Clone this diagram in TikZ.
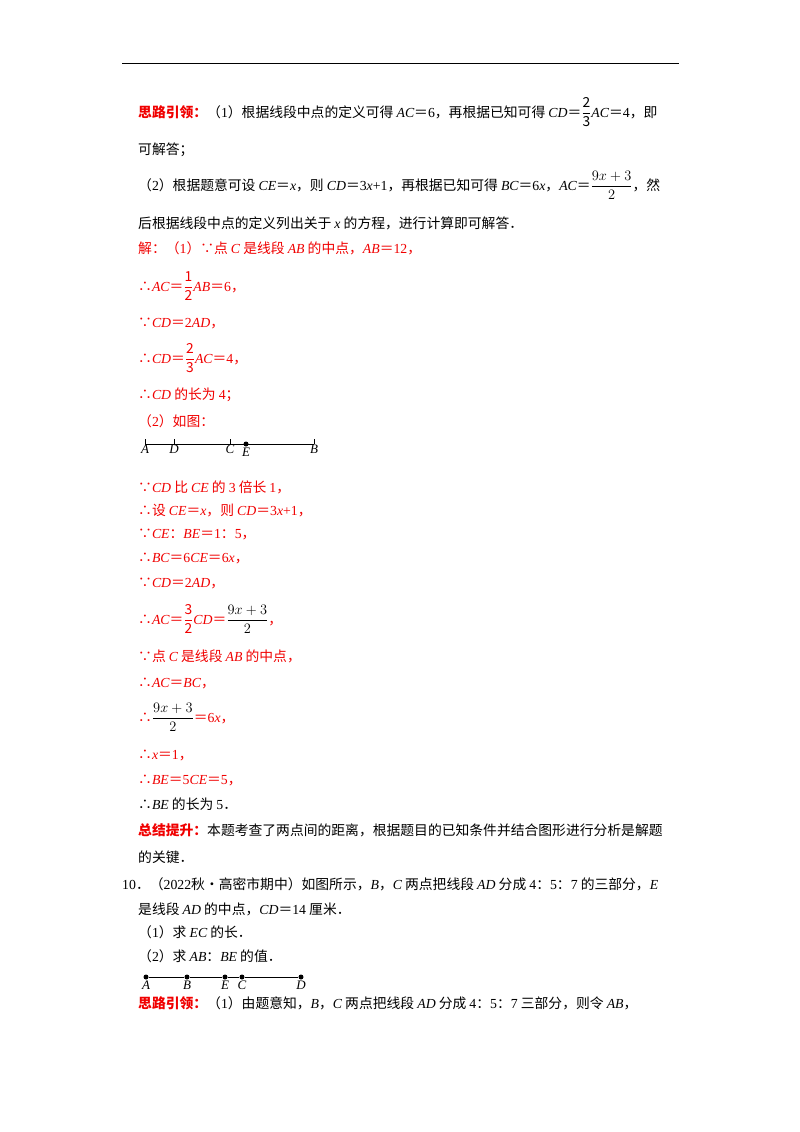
\documentclass[tikz,border=0pt]{standalone}
\usepackage{fontspec}
\setmainfont{Noto Sans CJK SC}
\newfontfamily\tm{Liberation Serif}
\newcommand\V[1]{{\tm\itshape #1}}
\newcommand\N[1]{{\tm #1}}
\newcommand\F[2]{$\displaystyle\frac{\mathrm{#1}}{\mathrm{#2}}$}
\definecolor{rd}{RGB}{240,0,0}
\begin{document}
\begin{tikzpicture}[x=1pt,y=-1pt,
  t/.style={anchor=base west,inner sep=0,font=\fontsize{13.8}{16}\selectfont},
  r/.style={t,text=rd},
  pt/.style={circle,fill,inner sep=0,minimum size=5pt},
  lb/.style={anchor=north,inner sep=1pt,font=\fontsize{13}{15}\selectfont\tm\itshape}]
\useasboundingbox (0,0) rectangle (800,1132);
\draw[line width=0.8pt] (122,63) -- (679,63);
\node[t] (l1) at (138,117) {{\color{rd}\bfseries 思路引领：}（\N{1}）根据线段中点的定义可得 \V{AC}＝\N{6}，再根据已知可得 \V{CD}＝\F{2}{3}\V{AC}＝\N{4}，即};
\node[t] (l2) at (138,154) {可解答；};
\node[t] (l3) at (138,190) {（\N{2}）根据题意可设 \V{CE}＝\V{x}，则 \V{CD}＝\N{3}\V{x}\N{+1}，再根据已知可得 \V{BC}＝\N{6}\V{x}，\V{AC}＝$\displaystyle\frac{9x+3}{2}$，然};
\node[t] (l4) at (138,228) {后根据线段中点的定义列出关于 \V{x} 的方程，进行计算即可解答．};
\node[r] (l5) at (138,253) {解：（\N{1}）∵点 \V{C} 是线段 \V{AB} 的中点，\V{AB}＝\N{12}，};
\node[r] (l6) at (138,291) {∴\V{AC}＝\F{1}{2}\V{AB}＝\N{6}，};
\node[r] (l7) at (138,327) {∵\V{CD}＝\N{2}\V{AD}，};
\node[r] (l8) at (138,363) {∴\V{CD}＝\F{2}{3}\V{AC}＝\N{4}，};
\node[r] (l9) at (138,399) {∴\V{CD} 的长为 \N{4}；};
\node[r] (l10) at (138,426) {（\N{2}）如图：};
% figure 1
\coordinate (A1) at (145,444); \coordinate (D1) at (174,444); \coordinate (C1) at (230,444);
\coordinate (B1) at (314,444);
\node[pt] (E1) at (246,444) {};
\draw (A1) -- (B1);
\foreach \p in {A1,D1,C1,B1} \draw (\p) ++(0,-5) -- ++(0,5);
\node[lb] at (A1) {A}; \node[lb] at (D1) {D}; \node[lb] at (C1) {C};
\node[lb] at (E1.south) {E}; \node[lb] at (B1) {B};
\node[r] at (138,492) {∵\V{CD} 比 \V{CE} 的 \N{3} 倍长 \N{1}，};
\node[r] at (138,515) {∴设 \V{CE}＝\V{x}，则 \V{CD}＝\N{3}\V{x}\N{+1}，};
\node[r] at (138,538) {∵\V{CE}：\V{BE}＝\N{1}：\N{5}，};
\node[r] at (138,562) {∴\V{BC}＝\N{6}\V{CE}＝\N{6}\V{x}，};
\node[r] at (138,587) {∵\V{CD}＝\N{2}\V{AD}，};
\node[r] at (138,624) {∴\V{AC}＝\F{3}{2}\V{CD}＝{\color{black}$\displaystyle\frac{9x+3}{2}$}，};
\node[r] at (138,661) {∵点 \V{C} 是线段 \V{AB} 的中点，};
\node[r] at (138,687) {∴\V{AC}＝\V{BC}，};
\node[r] at (138,722) {∴{\color{black}$\displaystyle\frac{9x+3}{2}$}＝\N{6}\V{x}，};
\node[r] at (138,759) {∴\V{x}＝\N{1}，};
\node[r] at (138,784) {∴\V{BE}＝\N{5}\V{CE}＝\N{5}，};
\node[t] at (138,809) {∴\V{BE} 的长为 \N{5}．};
\node[t] at (138,835) {{\color{rd}\bfseries 总结提升：}本题考查了两点间的距离，根据题目的已知条件并结合图形进行分析是解题};
\node[t] at (138,862) {的关键．};
\node[t] at (122,889) {\N{10}．（\N{2022}秋•高密市期中）如图所示，\V{B}，\V{C} 两点把线段 \V{AD} 分成 \N{4}：\N{5}：\N{7} 的三部分，\V{E}};
\node[t] at (138,914) {是线段 \V{AD} 的中点，\V{CD}＝\N{14} 厘米．};
\node[t] at (138,937) {（\N{1}）求 \V{EC} 的长．};
\node[t] at (138,961) {（\N{2}）求 \V{AB}：\V{BE} 的值．};
% figure 2
\node[pt] (A2) at (146,977) {}; \node[pt] (B2) at (187,977) {}; \node[pt] (E2) at (225,977) {};
\node[pt] (C2) at (242,977) {}; \node[pt] (D2) at (301,977) {};
\draw (A2) -- (B2) -- (E2) -- (C2) -- (D2);
\node[lb] at (A2.south) {A}; \node[lb] at (B2.south) {B}; \node[lb] at (E2.south) {E};
\node[lb] at (C2.south) {C}; \node[lb] at (D2.south) {D};
\node[t] at (138,1008) {{\color{rd}\bfseries 思路引领：}（\N{1}）由题意知，\V{B}，\V{C} 两点把线段 \V{AD} 分成 \N{4}：\N{5}：\N{7} 三部分，则令 \V{AB}，};
\end{tikzpicture}
\end{document}
